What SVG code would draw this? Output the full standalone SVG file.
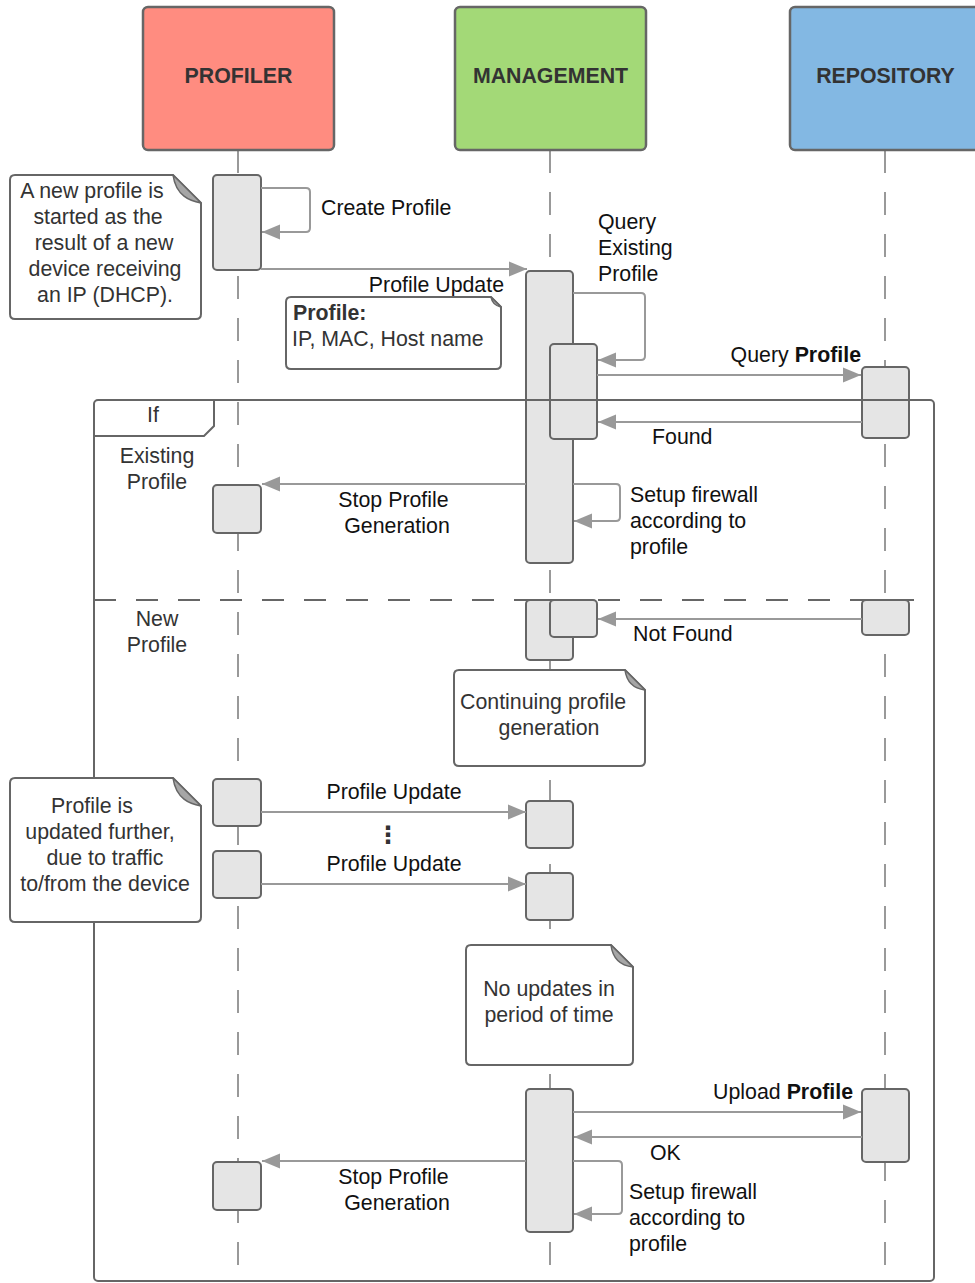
<svg xmlns="http://www.w3.org/2000/svg" width="975" height="1283" viewBox="0 0 975 1283">
<style>
text{font-family:"Liberation Sans",Arial,sans-serif;font-size:21.33px;fill:#111}
.hdr{font-weight:bold;font-size:21.33px;fill:#333;text-anchor:middle}
.note{fill:#333;text-anchor:middle}
.nb{fill:#fff;stroke:#666;stroke-width:2}
.fold{fill:#a6a6a6;stroke:#666;stroke-width:1.5;stroke-linejoin:round}
.head{stroke:#666;stroke-width:2.5}
.life{stroke:#999;stroke-width:2;stroke-dasharray:23 19;fill:none}
.act{fill:#e5e5e5;stroke:#666;stroke-width:2}
.msg{stroke:#999;stroke-width:2;fill:none;marker-end:url(#ah)}
.frame{fill:none;stroke:#666;stroke-width:2}
.lbl{fill:#333;text-anchor:middle}
.c{text-anchor:middle}
.e{text-anchor:end}
</style>
<defs>
<marker id="ah" markerUnits="userSpaceOnUse" markerWidth="20" markerHeight="16" refX="18" refY="8" orient="auto">
<path d="M0,0.5 L18,8 L0,15.5 Z" fill="#999"/>
</marker>
</defs>
<rect width="975" height="1283" fill="#fff"/>

<g id="lifelines">
<line class="life" x1="238" y1="150" x2="238" y2="1283"/>
<line class="life" x1="550" y1="150" x2="550" y2="1283"/>
<line class="life" x1="885" y1="150" x2="885" y2="1283"/>
</g>

<g id="profiler">
<rect class="head" x="143" y="7" width="191" height="143" rx="5" fill="#ff8c80"/>
<text class="hdr" x="238.5" y="83">PROFILER</text>
</g>
<g id="management">
<rect class="head" x="455" y="7" width="191" height="143" rx="5" fill="#a3d977"/>
<text class="hdr" x="550.5" y="83">MANAGEMENT</text>
</g>
<g id="repository">
<rect class="head" x="790" y="7" width="195" height="143" rx="5" fill="#83b8e3"/>
<text class="hdr" x="885.5" y="83">REPOSITORY</text>
</g>

<g id="activations">
<rect class="act" x="213" y="175" width="48" height="95" rx="4"/>
<rect class="act" x="526" y="271" width="47" height="292" rx="4"/>
<rect class="act" x="550" y="344" width="47" height="95" rx="4"/>
<rect class="act" x="862" y="367" width="47" height="71" rx="4"/>
<rect class="act" x="213" y="485" width="48" height="48" rx="4"/>
<rect class="act" x="526" y="600" width="47" height="60" rx="4"/>
<rect class="act" x="550" y="600" width="47" height="37" rx="4"/>
<rect class="act" x="862" y="600" width="47" height="35" rx="4"/>
<rect class="act" x="213" y="779" width="48" height="47" rx="4"/>
<rect class="act" x="213" y="851" width="48" height="47" rx="4"/>
<rect class="act" x="526" y="801" width="47" height="47" rx="4"/>
<rect class="act" x="526" y="873" width="47" height="47" rx="4"/>
<rect class="act" x="526" y="1089" width="47" height="143" rx="4"/>
<rect class="act" x="862" y="1089" width="47" height="73" rx="4"/>
<rect class="act" x="213" y="1162" width="48" height="48" rx="4"/>
</g>

<g id="frame">
<rect class="frame" x="94" y="400" width="840" height="881" rx="4"/>
<path class="frame" d="M94,436 H204 L214,426 V400"/>
<text class="lbl" x="153" y="422">If</text>
<text class="lbl" x="157" y="463">Existing</text>
<text class="lbl" x="157" y="489">Profile</text>
<line x1="94" y1="600" x2="918" y2="600" stroke="#666" stroke-width="2" stroke-dasharray="22 20"/>
<text class="lbl" x="157" y="626">New</text>
<text class="lbl" x="157" y="652">Profile</text>
</g>

<g id="connectors">
<path class="msg" d="M261,188 H306 Q310,188 310,192 V228 Q310,232 306,232 H262"/>
<path class="msg" d="M261,269 H527"/>
<path class="msg" d="M573,293 H641 Q645,293 645,297 V356 Q645,360 641,360 H598"/>
<path class="msg" d="M597,375 H861"/>
<path class="msg" d="M862,422 H598"/>
<path class="msg" d="M526,484 H262"/>
<path class="msg" d="M573,484 H616 Q620,484 620,488 V517 Q620,521 616,521 H574"/>
<path class="msg" d="M862,619 H598"/>
<path class="msg" d="M261,812 H526"/>
<path class="msg" d="M261,884 H526"/>
<path class="msg" d="M573,1112 H861"/>
<path class="msg" d="M862,1137 H574"/>
<path class="msg" d="M526,1161 H262"/>
<path class="msg" d="M573,1161 H618 Q622,1161 622,1165 V1210 Q622,1214 618,1214 H574"/>
</g>

<g id="labels">
<text x="321" y="215">Create Profile</text>
<text x="598" y="229">Query</text>
<text x="598" y="255">Existing</text>
<text x="598" y="281">Profile</text>
<text class="e" x="504" y="292">Profile Update</text>
<text class="e" x="861" y="362">Query <tspan font-weight="bold">Profile</tspan></text>
<text x="652" y="444">Found</text>
<text class="c" x="393.5" y="507">Stop Profile</text>
<text class="c" x="397" y="533">Generation</text>
<text x="630" y="502">Setup firewall</text>
<text x="630" y="528">according to</text>
<text x="630" y="554">profile</text>
<text x="633" y="641">Not Found</text>
<text class="c" x="394" y="799">Profile Update</text>
<text class="c" x="388" y="843" style="font-family:'DejaVu Sans',sans-serif;font-size:24px;font-weight:bold;fill:#333">⋮</text>
<text class="c" x="394" y="871">Profile Update</text>
<text class="e" x="853" y="1099">Upload <tspan font-weight="bold">Profile</tspan></text>
<text x="650" y="1160">OK</text>
<text class="c" x="393.5" y="1184">Stop Profile</text>
<text class="c" x="397" y="1210">Generation</text>
<text x="629" y="1199">Setup firewall</text>
<text x="629" y="1225">according to</text>
<text x="629" y="1251">profile</text>
</g>

<g id="note-new-profile">
<path class="nb" d="M15,175 H173 L201,203 V314 Q201,319 196,319 H15 Q10,319 10,314 V180 Q10,175 15,175 Z"/>
<path class="fold" d="M173,175 L201,203 C190,201 176,196 173,175 Z"/>
<text class="note" x="92" y="198">A new profile is</text>
<text class="note" x="98" y="224">started as the</text>
<text class="note" x="104" y="250">result of a new</text>
<text class="note" x="105" y="276">device receiving</text>
<text class="note" x="105" y="302">an IP (DHCP).</text>
</g>

<g id="note-profile-fields">
<path class="nb" d="M291,297 H491 L501,307 V364 Q501,369 496,369 H291 Q286,369 286,364 V302 Q286,297 291,297 Z"/>
<path class="fold" d="M491,297 L501,307 C496,306 492,303 491,297 Z"/>
<text x="293" y="320" style="fill:#333;font-weight:bold">Profile:</text>
<text x="292" y="346" style="fill:#333">IP, MAC, Host name</text>
</g>

<g id="note-continuing">
<path class="nb" d="M459,670 H625 L645,690 V761 Q645,766 640,766 H459 Q454,766 454,761 V675 Q454,670 459,670 Z"/>
<path class="fold" d="M625,670 L645,690 C637,689 627,685 625,670 Z"/>
<text class="note" x="543" y="709">Continuing profile</text>
<text class="note" x="549" y="735">generation</text>
</g>

<g id="note-updated">
<path class="nb" d="M15,778 H173 L201,806 V917 Q201,922 196,922 H15 Q10,922 10,917 V783 Q10,778 15,778 Z"/>
<path class="fold" d="M173,778 L201,806 C190,804 176,799 173,778 Z"/>
<text class="note" x="92" y="813">Profile is</text>
<text class="note" x="100" y="839">updated further,</text>
<text class="note" x="105" y="865">due to traffic</text>
<text class="note" x="105" y="891">to/from the device</text>
</g>

<g id="note-no-updates">
<path class="nb" d="M471,945 H611 L633,967 V1060 Q633,1065 628,1065 H471 Q466,1065 466,1060 V950 Q466,945 471,945 Z"/>
<path class="fold" d="M611,945 L633,967 C624,966 613,962 611,945 Z"/>
<text class="note" x="549" y="996">No updates in</text>
<text class="note" x="549" y="1022">period of time</text>
</g>
</svg>
